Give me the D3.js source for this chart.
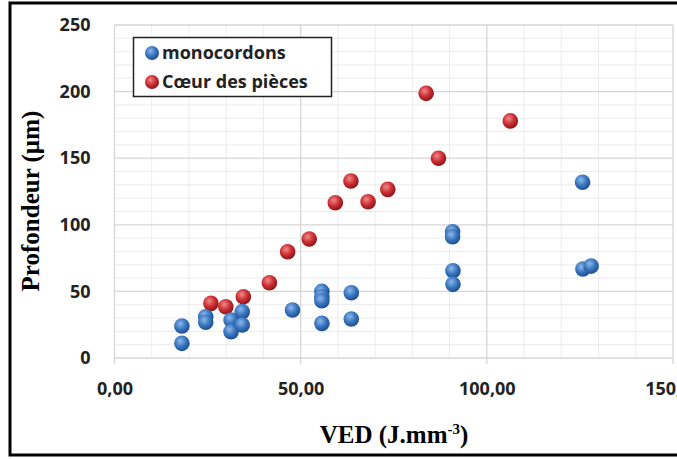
<!DOCTYPE html>
<html>
<head>
<meta charset="utf-8">
<script src="https://cdn.jsdelivr.net/npm/d3@7"></script>
<style>
  body { margin: 0; background: #fff; }
</style>
</head>
<body>
<div id="chart"></div>
<script>
// data
var monoX = [18.1, 18.1, 24.5, 24.5, 31.3, 31.3, 34.3, 34.3, 47.8, 55.7, 55.7, 55.7, 55.7, 63.6, 63.6, 90.8, 90.8, 90.9, 90.9, 125.8, 128.0, 125.7];
var monoY = [24, 11, 31, 26.8, 28.5, 19.8, 34.8, 24.8, 36, 50, 46, 43, 26, 49, 29.3, 94.8, 91, 65.5, 55.3, 66.8, 69, 131.9];
var coeurX = [25.9, 29.9, 34.6, 41.6, 46.5, 52.3, 59.3, 63.5, 68.1, 73.4, 83.7, 87.0, 106.3];
var coeurY = [41, 38.5, 46, 56.5, 79.8, 89.3, 116.6, 132.9, 117.3, 126.6, 198.7, 150, 178];
var xTicks = [0, 50, 100, 150];
var yTicks = [0, 50, 100, 150, 200, 250];
var seriesNames = ["monocordons", "Cœur des pièces"];

var W = 677, H = 459;
var margin = { top: 25, right: 4, bottom: 101, left: 114.5 },
    width = W - margin.left - margin.right,
    height = H - margin.top - margin.bottom;

var svg = d3.select("#chart").append("svg")
    .attr("width", W)
    .attr("height", H);

// ball gradients
var defs = svg.append("defs");
function ball(id, light, mid, dark) {
  var g = defs.append("radialGradient").attr("id", id)
      .attr("cx", "40%").attr("cy", "35%").attr("r", "65%");
  g.append("stop").attr("offset", "0%").attr("stop-color", light);
  g.append("stop").attr("offset", "55%").attr("stop-color", mid);
  g.append("stop").attr("offset", "100%").attr("stop-color", dark);
}
ball("gBlue", "#8db8ea", "#3a76c0", "#1d4f8f");
ball("gRed", "#f08a8a", "#cc2f33", "#8c1518");

// outer frame
svg.append("rect")
    .attr("x", 10).attr("y", 3)
    .attr("width", W).attr("height", 452)
    .attr("fill", "none").attr("stroke", "#000").attr("stroke-width", 3);

var g = svg.append("g")
    .attr("transform", "translate(" + margin.left + "," + margin.top + ")");

var x = d3.scaleLinear().domain([0, 150]).range([0, width]);
var y = d3.scaleLinear().domain([0, 250]).range([height, 0]);

// minor grid
g.append("g").selectAll("line")
    .data(d3.range(10, 150, 10).filter(function (d) { return d % 50 != 0; }))
    .enter().append("line")
    .attr("x1", function (d) { return x(d); }).attr("x2", function (d) { return x(d); })
    .attr("y1", 0).attr("y2", height)
    .attr("stroke", "#ececec").attr("stroke-width", 1);
g.append("g").selectAll("line")
    .data(d3.range(10, 250, 10).filter(function (d) { return d % 50 != 0; }))
    .enter().append("line")
    .attr("y1", function (d) { return y(d); }).attr("y2", function (d) { return y(d); })
    .attr("x1", 0).attr("x2", width)
    .attr("stroke", "#ececec").attr("stroke-width", 1);

// major grid
g.append("g").selectAll("line")
    .data(xTicks)
    .enter().append("line")
    .attr("x1", function (d) { return x(d); }).attr("x2", function (d) { return x(d); })
    .attr("y1", 0).attr("y2", height + 6)
    .attr("stroke", "#d6d6d6").attr("stroke-width", 1.3);
g.append("g").selectAll("line")
    .data(yTicks)
    .enter().append("line")
    .attr("y1", function (d) { return y(d); }).attr("y2", function (d) { return y(d); })
    .attr("x1", 0).attr("x2", width)
    .attr("stroke", "#d6d6d6").attr("stroke-width", 1.3);

// axes (labels only)
var xAxis = g.append("g")
    .attr("transform", "translate(0," + height + ")")
    .call(d3.axisBottom(x).tickValues(xTicks).tickSize(0).tickPadding(24)
      .tickFormat(function (d) { return d3.format(".2f")(d).replace(".", ","); }));
var yAxis = g.append("g")
    .call(d3.axisLeft(y).tickValues(yTicks).tickSize(0).tickPadding(24));
[xAxis, yAxis].forEach(function (a) {
  a.select(".domain").remove();
  a.selectAll("text")
    .style("font-family", "'Open Sans', Lato, sans-serif")
    .style("font-weight", "bold")
    .style("font-size", "18px")
    .attr("fill", "#222");
});

// points
function dots(xs, ys, fill) {
  g.append("g").selectAll("circle")
    .data(xs.map(function (v, i) { return { x: v, y: ys[i] }; }))
    .enter().append("circle")
    .attr("cx", function (d) { return x(d.x); })
    .attr("cy", function (d) { return y(d.y); })
    .attr("r", 7.8)
    .attr("fill", fill);
}
dots(coeurX, coeurY, "url(#gRed)");
dots(monoX, monoY, "url(#gBlue)");

// axis titles
svg.append("text")
    .attr("x", 394).attr("y", 443)
    .attr("text-anchor", "middle")
    .style("font-family", "'Liberation Serif', 'Times New Roman', serif")
    .style("font-weight", "bold")
    .style("font-size", "25px")
    .html('VED (J.mm<tspan dy="-9" font-size="15px">-3</tspan><tspan dy="9">)</tspan>');
svg.append("text")
    .attr("transform", "translate(39,201) rotate(-90)")
    .attr("text-anchor", "middle")
    .style("font-family", "'Liberation Serif', 'Times New Roman', serif")
    .style("font-weight", "bold")
    .style("font-size", "25px")
    .text("Profondeur (µm)");

// legend
var leg = svg.append("g");
leg.append("rect")
    .attr("x", 133.5).attr("y", 37.5).attr("width", 198).attr("height", 59)
    .attr("fill", "#fff").attr("stroke", "#222").attr("stroke-width", 1.5);
var items = leg.selectAll("g.item")
    .data(seriesNames)
    .enter().append("g")
    .attr("transform", function (d, i) { return "translate(152," + (53 + i * 29) + ")"; });
items.append("circle")
    .attr("r", 7)
    .attr("fill", function (d, i) { return i == 0 ? "url(#gBlue)" : "url(#gRed)"; });
items.append("text")
    .attr("x", 10).attr("dy", "0.35em")
    .style("font-family", "'Open Sans', Lato, sans-serif")
    .style("font-weight", "bold")
    .style("font-size", "18px")
    .attr("fill", "#222")
    .text(function (d) { return d; });
</script>
</body>
</html>
